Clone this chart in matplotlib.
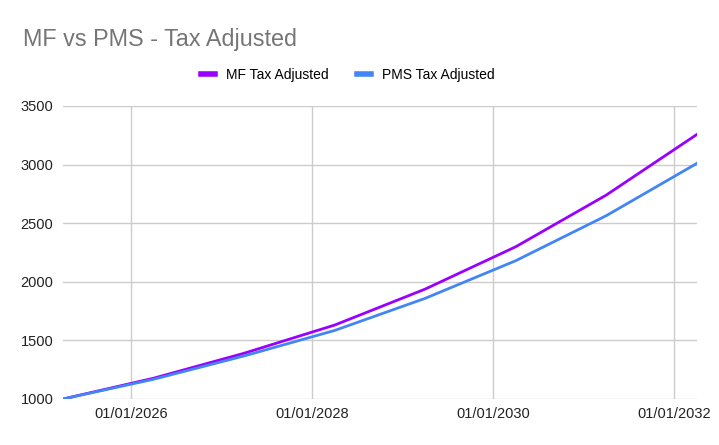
import datetime as dt
import matplotlib
matplotlib.use('Agg')
import matplotlib.pyplot as plt
import matplotlib.dates as mdates

# Yearly points
dates = [dt.date(y, 4, 1) for y in range(2025, 2033)]
mf_tax = [1000, 1177, 1390, 1631, 1938, 2299, 2740, 3258]
pms_tax = [1000, 1168, 1367, 1585, 1859, 2180, 2564, 3011]

tick_dates = [dt.date(2026, 1, 1), dt.date(2028, 1, 1), dt.date(2030, 1, 1), dt.date(2032, 1, 1)]
y_ticks = [1000, 1500, 2000, 2500, 3000, 3500]

plt.rcParams['font.family'] = ['Liberation Sans', 'DejaVu Sans']

fig = plt.figure(figsize=(7.19, 4.45), dpi=100)
ax = fig.add_axes([0.0876, 0.1034, 0.8818, 0.6584])

ax.plot(dates, mf_tax, color='#9900ff', linewidth=2, label='MF Tax Adjusted')
ax.plot(dates, pms_tax, color='#4285f4', linewidth=2, label='PMS Tax Adjusted')

ax.set_xlim(dates[0], dates[-1])
ax.set_ylim(1000, 3500)
ax.set_xticks(tick_dates)
ax.xaxis.set_major_formatter(mdates.DateFormatter('%d/%m/%Y'))
ax.set_yticks(y_ticks)

ax.grid(True, color='#cccccc', linewidth=1)
ax.set_axisbelow(True)
for s in ax.spines.values():
    s.set_visible(False)
ax.tick_params(length=0, labelsize=10.5, labelcolor='#222222')
ax.tick_params(axis='x', pad=6)
ax.tick_params(axis='y', pad=7)

fig.text(0.032, 0.912, 'MF vs PMS - Tax Adjusted', fontsize=16.8, color='#757575',
         ha='left', va='center')
fig.legend(loc='center', bbox_to_anchor=(0.484, 0.832), ncol=2, frameon=False,
           fontsize=10, handlelength=1.0, handletextpad=0.8, columnspacing=2.0)
leg = fig.legends[0]
for line in leg.get_lines():
    line.set_linewidth(4)

plt.savefig('out.png', dpi=100)
